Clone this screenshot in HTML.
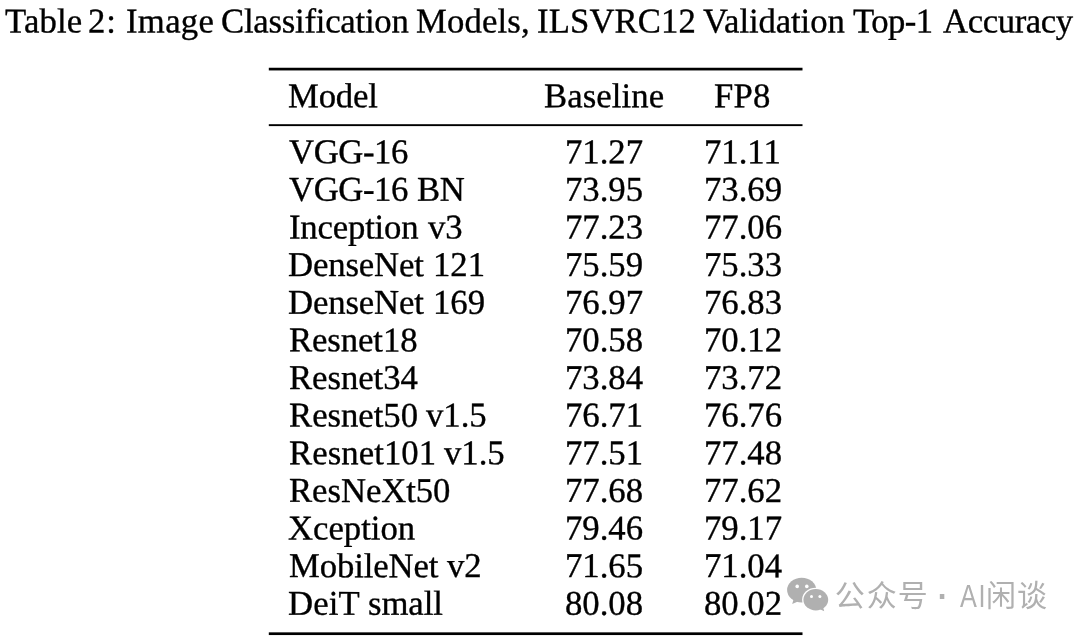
<!DOCTYPE html>
<html><head><meta charset="utf-8"><title>Table 2</title>
<style>
html,body{margin:0;padding:0;background:#fff;}
body{width:1080px;height:639px;position:relative;overflow:hidden;font-family:"Liberation Serif",serif;color:#000;}
.r{margin:0;padding:0;}
.t{position:absolute;display:block;white-space:nowrap;font-size:34.7px;line-height:39px;height:39px;-webkit-text-stroke:0.35px #000;transform-origin:0 31px;}
.wm{position:absolute;left:0;top:0;font-family:"Liberation Sans","Noto Sans CJK SC",sans-serif;font-size:30px;line-height:40px;color:#b0b0b0;white-space:pre;}
.wm span{position:absolute;display:block;}
</style></head><body>
<svg style="position:absolute;left:0;top:0;" width="1080" height="639" viewBox="0 0 1080 639"><rect x="268.8" y="67.75" width="533.7" height="2.7" fill="#000"/><rect x="268.8" y="124.2" width="533.7" height="1.9" fill="#000"/><rect x="268.8" y="632.35" width="533.7" height="2.7" fill="#000"/></svg>
<div class="r"><span class="t" style="left:4.56px;top:1px;transform:translateY(0.50px) rotate(0.04deg);letter-spacing:0.13px;">Table</span> <span class="t" style="left:88.34px;top:1px;transform:translateY(0.50px) rotate(0.04deg);letter-spacing:0.94px;">2:</span> <span class="t" style="left:126.27px;top:1px;transform:translateY(0.50px) rotate(0.04deg);letter-spacing:0.30px;">Image</span> <span class="t" style="left:220.86px;top:1px;transform:translateY(0.50px) rotate(0.04deg);letter-spacing:-0.23px;">Classification</span> <span class="t" style="left:415.60px;top:1px;transform:translateY(0.50px) rotate(0.04deg);letter-spacing:0.14px;">Models,</span> <span class="t" style="left:536.87px;top:1px;transform:translateY(0.50px) rotate(0.04deg);letter-spacing:0.12px;">ILSVRC12</span> <span class="t" style="left:703.46px;top:1px;transform:translateY(0.50px) rotate(0.04deg);letter-spacing:-0.09px;">Validation</span> <span class="t" style="left:852.56px;top:1px;transform:translateY(0.50px) rotate(0.04deg);letter-spacing:-0.58px;">Top-1</span> <span class="t" style="left:943.14px;top:1px;transform:translateY(0.50px) rotate(0.04deg);letter-spacing:-0.39px;">Accuracy</span></div>
<div class="r"><span class="t" style="left:288.23px;top:76px;transform:translateY(0.15px) rotate(0.04deg);letter-spacing:-0.19px;">Model</span> <span class="t" style="left:544.03px;top:76px;transform:translateY(0.15px) rotate(0.04deg);letter-spacing:0.10px;">Baseline</span> <span class="t" style="left:714.23px;top:76px;transform:translateY(0.15px) rotate(0.04deg);letter-spacing:0.20px;">FP8</span></div>
<div class="r"><span class="t" style="left:289.44px;top:132px;transform:translateY(0.15px) rotate(0.04deg);letter-spacing:-0.42px;">VGG-16</span> <span class="t" style="left:564.50px;top:132px;transform:translateY(0.15px) rotate(0.04deg);">71.27</span> <span class="t" style="left:704.05px;top:132px;transform:translateY(0.15px) rotate(0.04deg);">71.11</span></div>
<div class="r"><span class="t" style="left:289.44px;top:170px;transform:translateY(-0.22px) rotate(0.04deg);letter-spacing:-0.42px;">VGG-16</span> <span class="t" style="left:417.15px;top:170px;transform:translateY(-0.22px) rotate(0.04deg);letter-spacing:-0.45px;">BN</span> <span class="t" style="left:564.50px;top:170px;transform:translateY(-0.22px) rotate(0.04deg);">73.95</span> <span class="t" style="left:704.05px;top:170px;transform:translateY(-0.22px) rotate(0.04deg);">73.69</span></div>
<div class="r"><span class="t" style="left:289.27px;top:207px;transform:translateY(0.42px) rotate(0.04deg);letter-spacing:-0.18px;">Inception</span> <span class="t" style="left:427.94px;top:207px;transform:translateY(0.42px) rotate(0.04deg);">v3</span> <span class="t" style="left:564.50px;top:207px;transform:translateY(0.42px) rotate(0.04deg);">77.23</span> <span class="t" style="left:704.05px;top:207px;transform:translateY(0.42px) rotate(0.04deg);">77.06</span></div>
<div class="r"><span class="t" style="left:288.43px;top:245px;transform:translateY(0.05px) rotate(0.04deg);letter-spacing:-0.13px;">DenseNet</span> <span class="t" style="left:433.25px;top:245px;transform:translateY(0.05px) rotate(0.04deg);">121</span> <span class="t" style="left:564.50px;top:245px;transform:translateY(0.05px) rotate(0.04deg);">75.59</span> <span class="t" style="left:704.05px;top:245px;transform:translateY(0.05px) rotate(0.04deg);">75.33</span></div>
<div class="r"><span class="t" style="left:288.43px;top:283px;transform:translateY(-0.32px) rotate(0.04deg);letter-spacing:-0.13px;">DenseNet</span> <span class="t" style="left:433.25px;top:283px;transform:translateY(-0.32px) rotate(0.04deg);">169</span> <span class="t" style="left:564.50px;top:283px;transform:translateY(-0.32px) rotate(0.04deg);">76.97</span> <span class="t" style="left:704.05px;top:283px;transform:translateY(-0.32px) rotate(0.04deg);">76.83</span></div>
<div class="r"><span class="t" style="left:288.63px;top:320px;transform:translateY(0.32px) rotate(0.04deg);letter-spacing:-0.08px;">Resnet18</span> <span class="t" style="left:564.50px;top:320px;transform:translateY(0.32px) rotate(0.04deg);">70.58</span> <span class="t" style="left:704.05px;top:320px;transform:translateY(0.32px) rotate(0.04deg);">70.12</span></div>
<div class="r"><span class="t" style="left:288.63px;top:358px;transform:translateY(-0.05px) rotate(0.04deg);letter-spacing:-0.04px;">Resnet34</span> <span class="t" style="left:564.50px;top:358px;transform:translateY(-0.05px) rotate(0.04deg);">73.84</span> <span class="t" style="left:704.05px;top:358px;transform:translateY(-0.05px) rotate(0.04deg);">73.72</span></div>
<div class="r"><span class="t" style="left:288.63px;top:396px;transform:translateY(-0.42px) rotate(0.04deg);letter-spacing:-0.01px;">Resnet50</span> <span class="t" style="left:426.34px;top:396px;transform:translateY(-0.42px) rotate(0.04deg);">v1.5</span> <span class="t" style="left:564.50px;top:396px;transform:translateY(-0.42px) rotate(0.04deg);">76.71</span> <span class="t" style="left:704.05px;top:396px;transform:translateY(-0.42px) rotate(0.04deg);">76.76</span></div>
<div class="r"><span class="t" style="left:288.63px;top:433px;transform:translateY(0.21px) rotate(0.04deg);letter-spacing:0.08px;">Resnet101</span> <span class="t" style="left:444.24px;top:433px;transform:translateY(0.21px) rotate(0.04deg);">v1.5</span> <span class="t" style="left:564.50px;top:433px;transform:translateY(0.21px) rotate(0.04deg);">77.51</span> <span class="t" style="left:704.05px;top:433px;transform:translateY(0.21px) rotate(0.04deg);">77.48</span></div>
<div class="r"><span class="t" style="left:288.63px;top:471px;transform:translateY(-0.15px) rotate(0.04deg);letter-spacing:-0.05px;">ResNeXt50</span> <span class="t" style="left:564.50px;top:471px;transform:translateY(-0.15px) rotate(0.04deg);">77.68</span> <span class="t" style="left:704.05px;top:471px;transform:translateY(-0.15px) rotate(0.04deg);">77.62</span></div>
<div class="r"><span class="t" style="left:288.35px;top:508px;transform:translateY(0.48px) rotate(0.04deg);letter-spacing:-0.01px;">Xception</span> <span class="t" style="left:564.50px;top:508px;transform:translateY(0.48px) rotate(0.04deg);">79.46</span> <span class="t" style="left:704.05px;top:508px;transform:translateY(0.48px) rotate(0.04deg);">79.17</span></div>
<div class="r"><span class="t" style="left:288.60px;top:546px;transform:translateY(0.11px) rotate(0.04deg);letter-spacing:-0.11px;">MobileNet</span> <span class="t" style="left:447.24px;top:546px;transform:translateY(0.11px) rotate(0.04deg);">v2</span> <span class="t" style="left:564.50px;top:546px;transform:translateY(0.11px) rotate(0.04deg);">71.65</span> <span class="t" style="left:704.05px;top:546px;transform:translateY(0.11px) rotate(0.04deg);">71.04</span></div>
<div class="r"><span class="t" style="left:288.43px;top:584px;transform:translateY(-0.25px) rotate(0.04deg);letter-spacing:0.10px;">DeiT</span> <span class="t" style="left:368.05px;top:584px;transform:translateY(-0.25px) rotate(0.04deg);letter-spacing:-0.08px;">small</span> <span class="t" style="left:564.50px;top:584px;transform:translateY(-0.25px) rotate(0.04deg);">80.08</span> <span class="t" style="left:704.05px;top:584px;transform:translateY(-0.25px) rotate(0.04deg);">80.02</span></div>
<svg style="position:absolute;left:785px;top:575px;" width="46" height="38" viewBox="785 575 46 38">
<g fill="#b0b0b0">
<ellipse cx="801.700" cy="590.100" rx="14.600" ry="12.400"/>
<path d="M793.500 599.500 L792.200 604 L798 601.500 Z"/>
</g>
<ellipse cx="815.800" cy="599.700" rx="13.700" ry="11.900" fill="#fff"/>
<g fill="#b0b0b0">
<ellipse cx="815.800" cy="599.700" rx="12.400" ry="10.700"/>
<path d="M819.500 609 L824.200 611.200 L823.200 607.500 Z"/>
</g>
<g fill="#fff"><circle cx="797.200" cy="586.400" r="1.800"/><circle cx="806.800" cy="586.400" r="1.800"/><circle cx="811.500" cy="596.500" r="1.500"/><circle cx="819.900" cy="596.500" r="1.500"/></g>
</svg>
<div class="wm"><span style="left:834.8px;top:576px;">公</span><span style="left:866.8px;top:576px;">众</span><span style="left:897.8px;top:576px;">号</span><span style="left:926px;top:576px;"> </span><span style="left:934.3px;top:573px;font-size:47px;">·</span><span style="left:950px;top:576px;"> </span><span style="left:959.6px;top:576px;font-size:31.6px;letter-spacing:2px;transform:scaleX(0.8);transform-origin:0 0;">AI</span><span style="left:986.1px;top:576px;">闲</span><span style="left:1016.9px;top:576px;">谈</span></div>
</body></html>
